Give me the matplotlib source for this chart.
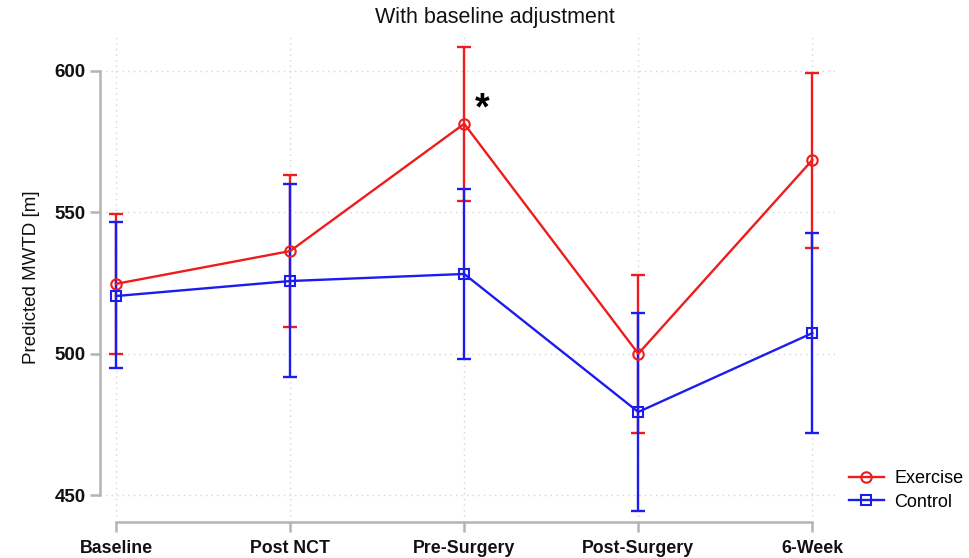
import matplotlib
matplotlib.use("Agg")
import matplotlib.pyplot as plt
import numpy as np

plt.rcParams["font.family"] = ["Liberation Sans", "DejaVu Sans"]

timepoints = ["Baseline", "Post NCT", "Pre-Surgery", "Post-Surgery", "6-Week"]

exercise_mean = [524.7, 536.3, 581.3, 500.0, 568.5]
exercise_low = [500.0, 509.4, 554.0, 472.0, 537.5]
exercise_high = [549.4, 563.2, 608.5, 527.8, 599.3]

control_mean = [520.4, 525.7, 528.2, 479.4, 507.3]
control_low = [494.9, 491.7, 498.0, 444.3, 472.0]
control_high = [546.6, 560.0, 558.3, 514.4, 542.7]

RED = "#ee1c1c"
BLUE = "#1c1cee"
GRID = "#d4d4d4"
AXIS = "#b4b4b4"

fig = plt.figure(figsize=(9.7, 5.58), dpi=100)
ax = fig.add_axes([100 / 970, 36 / 558, 735 / 970, 489 / 558])

x = np.arange(len(timepoints))


def draw_series(mean, low, high, color, marker, label):
    mean = np.array(mean)
    err = np.vstack([mean - np.array(low), np.array(high) - mean])
    ax.errorbar(x, mean, yerr=err, fmt="none", ecolor=color, elinewidth=1.7,
                capsize=5, capthick=1.7, zorder=3)
    ax.plot(x, mean, color=color, lw=1.7, marker=marker, markersize=7.5,
            markerfacecolor="none", markeredgecolor=color, markeredgewidth=1.5,
            label=label, zorder=4)


draw_series(exercise_mean, exercise_low, exercise_high, RED, "o", "Exercise")
draw_series(control_mean, control_low, control_high, BLUE, "s", "Control")

# significance marker at Pre-Surgery
ax.text(2.105, 586.5, "*", fontsize=27, fontweight="bold", ha="center", va="center", color="black")

ax.set_xlim(-0.092, 4.13)
ax.set_ylim(440.5, 613.4)
ax.set_xticks(x)
ax.set_xticklabels(timepoints, fontsize=12.8, fontweight="bold", color="#111111")
ax.set_yticks([450, 500, 550, 600])
ax.set_yticklabels(["450", "500", "550", "600"], fontsize=13.5, fontweight="bold", color="#111111")
ax.set_ylabel("Predicted MWTD [m]", fontsize=13.5, color="#111111", labelpad=10)

# title sits centred on the whole graph region, not just the plot area
fig.text(495 / 970, 1 - 18 / 558, "With baseline adjustment", fontsize=15.5,
         color="#111111", ha="center", va="center")

ax.grid(True, linestyle=(0, (1, 3)), color=GRID, linewidth=1)
ax.set_axisbelow(True)

for side in ["top", "right"]:
    ax.spines[side].set_visible(False)
ax.spines["left"].set_bounds(450, 600)
ax.spines["bottom"].set_bounds(0, 4)
ax.spines["left"].set_color(AXIS)
ax.spines["bottom"].set_color(AXIS)
ax.spines["left"].set_linewidth(1.8)
ax.spines["bottom"].set_linewidth(1.8)
ax.tick_params(axis="both", colors=AXIS, length=7, width=1.8, labelcolor="#111111")
ax.tick_params(axis="x", pad=6)

fig.legend(loc="lower left", bbox_to_anchor=(842 / 970, 40 / 558), frameon=False,
           fontsize=13, handlelength=1.9, handletextpad=0.6, labelspacing=0.35,
           borderaxespad=0)

fig.savefig("out.png", dpi=100)
